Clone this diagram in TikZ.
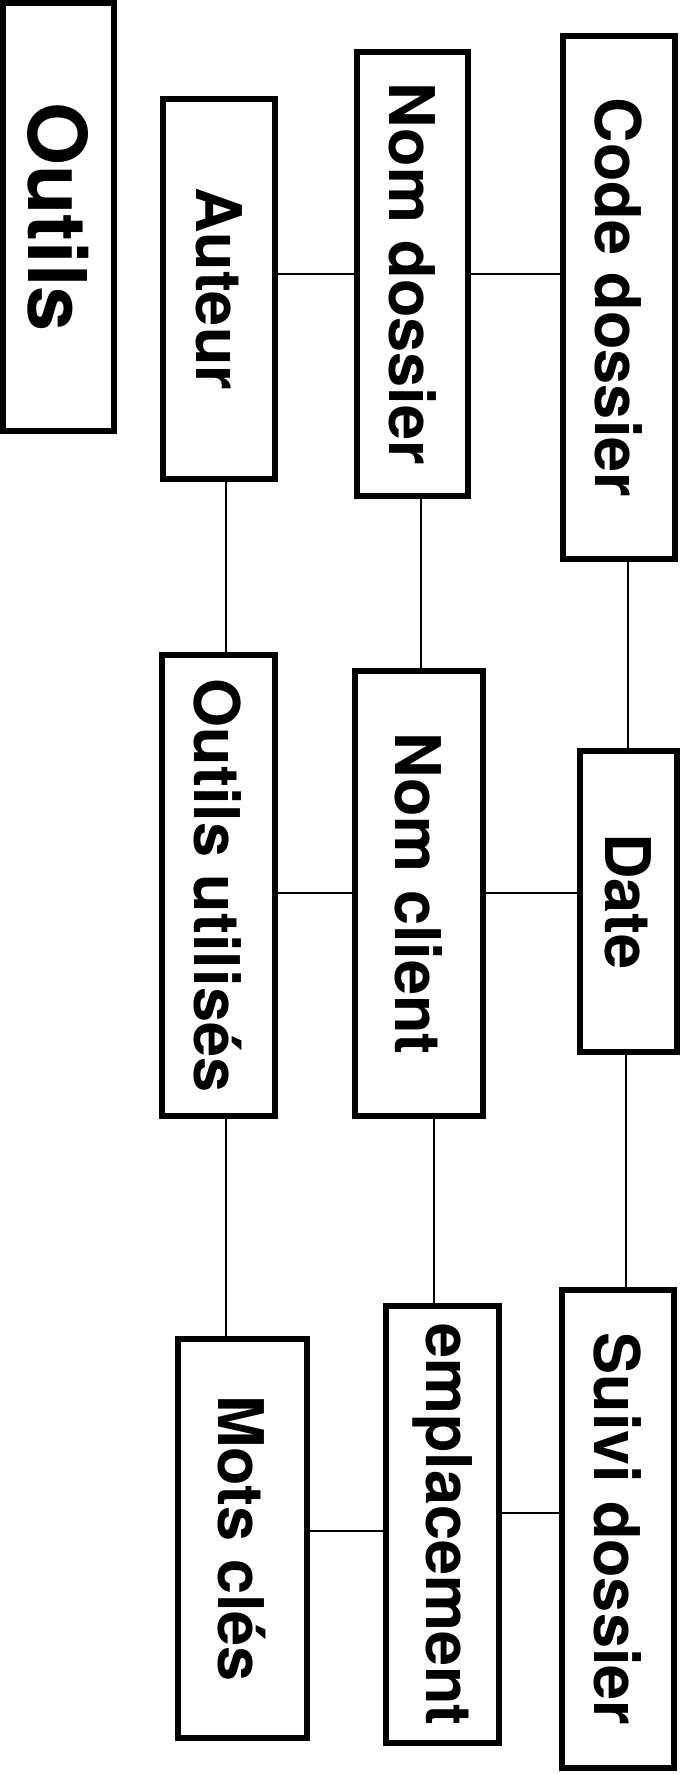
\documentclass[tikz,border=0pt]{standalone}
\usepackage{fontspec}
\setmainfont{TeX Gyre Heros}
\usepackage{graphicx}

\begin{document}
\begin{tikzpicture}[
    x=1pt, y=-1pt,
    boite/.style={draw, line width=6pt, inner sep=0pt,
      font=\fontsize{63}{63}\selectfont\bfseries},
    lien/.style={line width=1.8pt}]
  % cadre de la page
  \useasboundingbox (0,0) rectangle (683,1774);
  % titre
  \node[boite, minimum width=111pt, minimum height=428pt,
    font=\fontsize{81}{81}\selectfont\bfseries] (outils) at (58.5,217) {\rotatebox{-90}{Outils}};
  % premiere rangee
  \node[boite, minimum width=112pt, minimum height=380pt] (auteur) at (219,289) {\rotatebox{-90}{Auteur}};
  \node[boite, minimum width=111pt, minimum height=444pt] (nomdossier) at (412.5,274) {\rotatebox{-90}{Nom dossier}};
  \node[boite, minimum width=112pt, minimum height=523pt] (codedossier) at (619,297.5) {\rotatebox{-90}{Code dossier}};
  % deuxieme rangee
  \node[boite, minimum width=113.5pt, minimum height=461pt] (utilises) at (218.25,885.5) {\rotatebox{-90}{Outils utilisés}};
  \node[boite, minimum width=128pt, minimum height=445pt] (nomclient) at (419,893.5) {\rotatebox{-90}{Nom client}};
  \node[boite, minimum width=97pt, minimum height=301pt] (date) at (628.5,901.5) {\rotatebox{-90}{Date}};
  % troisieme rangee
  \node[boite, minimum width=129.4pt, minimum height=399pt] (motscles) at (242.3,1538.5) {\rotatebox{-90}{Mots clés}};
  \node[boite, minimum width=113pt, minimum height=437pt] (emplacement) at (442.5,1524.5) {\rotatebox{-90}{emplacement}};
  \node[boite, minimum width=112pt, minimum height=478pt] (suivi) at (618,1529) {\rotatebox{-90}{Suivi dossier}};
  % reperes des liens
  \coordinate (r1) at (0,274);
  \coordinate (r2) at (0,893);
  \coordinate (r3) at (0,1531);
  \coordinate (r4) at (0,1513);
  \coordinate (c1) at (226,0);
  \coordinate (c2) at (421,0);
  \coordinate (c3) at (434,0);
  \coordinate (c4) at (628,0);
  \coordinate (c5) at (626,0);
  % liens horizontaux
  \draw[lien] (auteur.east |- r1) -- (nomdossier.west |- r1);
  \draw[lien] (nomdossier.east |- r1) -- (codedossier.west |- r1);
  \draw[lien] (utilises.east |- r2) -- (nomclient.west |- r2);
  \draw[lien] (nomclient.east |- r2) -- (date.west |- r2);
  \draw[lien] (motscles.east |- r3) -- (emplacement.west |- r3);
  \draw[lien] (emplacement.east |- r4) -- (suivi.west |- r4);
  % liens verticaux
  \draw[lien] (auteur.south -| c1) -- (utilises.north -| c1);
  \draw[lien] (utilises.south -| c1) -- (motscles.north -| c1);
  \draw[lien] (nomdossier.south -| c2) -- (nomclient.north -| c2);
  \draw[lien] (nomclient.south -| c3) -- (emplacement.north -| c3);
  \draw[lien] (codedossier.south -| c4) -- (date.north -| c4);
  \draw[lien] (date.south -| c5) -- (suivi.north -| c5);
\end{tikzpicture}
\end{document}
